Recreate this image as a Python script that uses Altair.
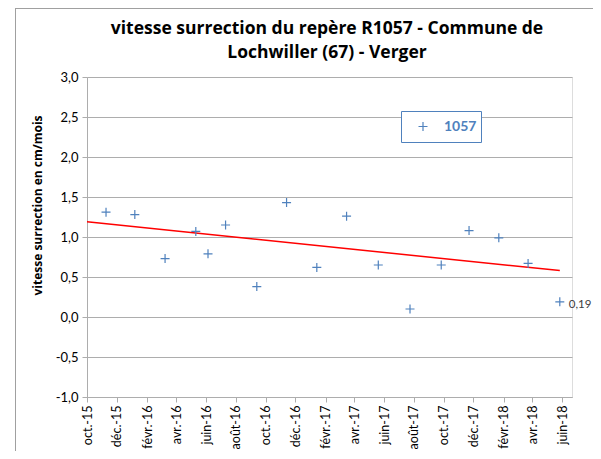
import altair as alt
import pandas as pd

# ---- data ----
dates = ["2015-11-09", "2016-01-07", "2016-03-09", "2016-05-11", "2016-06-05",
         "2016-07-11", "2016-09-13", "2016-11-13", "2017-01-14", "2017-03-16",
         "2017-05-20", "2017-07-24", "2017-09-26", "2017-11-22", "2018-01-22",
         "2018-03-23", "2018-05-27"]
values = [1.31, 1.28, 0.73, 1.07, 0.79, 1.15, 0.38, 1.43, 0.62, 1.26,
          0.65, 0.10, 0.65, 1.08, 0.99, 0.67, 0.19]
series_name = "1057"
trend_dates = ["2015-10-01", "2018-05-27"]
trend_values = [1.19, 0.58]
y_ticks = [-1.0, -0.5, 0.0, 0.5, 1.0, 1.5, 2.0, 2.5, 3.0]
x_tick_months = [(2015, 10), (2015, 12), (2016, 2), (2016, 4), (2016, 6), (2016, 8),
                 (2016, 10), (2016, 12), (2017, 2), (2017, 4), (2017, 6), (2017, 8),
                 (2017, 10), (2017, 12), (2018, 2), (2018, 4), (2018, 6)]
title_lines = ["vitesse surrection du repère R1057 - Commune de",
               "Lochwiller (67) - Verger"]
y_title = "vitesse surrection en cm/mois"

FONT = "Lato"
TFONT = "Open Sans"
BLUE = "#4F81BD"
GRID = "#ADADAD"
PLUS = "M-1,0L1,0M0,-1L0,1"

df = pd.DataFrame({
    "date": [d + "T00:00:00" for d in dates],
    "v": values,
    "serie": [series_name] * len(values),
    "idx": list(range(len(values))),
})
trend = pd.DataFrame({"date": [d + "T00:00:00" for d in trend_dates], "v": trend_values})

x_scale = alt.Scale(domain=[alt.DateTime(year=2015, month=10, date=1),
                            alt.DateTime(year=2018, month=6, date=21)])
y_scale = alt.Scale(domain=[-1, 3], nice=False, zero=False)

month_names = "['janv.','févr.','mars','avr.','mai','juin','juil.','août','sept.','oct.','nov.','déc.']"

x_axis = alt.Axis(
    values=[alt.DateTime(year=y, month=m, date=1) for y, m in x_tick_months],
    labelExpr=month_names + "[month(datum.value)] + '-' + timeFormat(datum.value, '%y')",
    labelAngle=270, labelAlign="right", labelBaseline="middle",
    labelFont=FONT, labelFontSize=12.5, labelColor="#000000", labelPadding=3,
    labelOverlap=False, labelFlush=False,
    grid=False, tickSize=5, tickColor=GRID, domainColor=GRID, title=None,
)
y_axis = alt.Axis(
    values=y_ticks,
    labelExpr="(datum.value < 0 ? '-' : '') + replace(format(abs(datum.value), '.1f'), '.', ',')",
    labelFont=FONT, labelFontSize=13, labelColor="#000000", labelPadding=4,
    grid=True, gridColor=GRID, gridWidth=1, tickSize=5, tickColor=GRID, domainColor=GRID,
    title=y_title, titleFont=TFONT, titleFontSize=12, titleFontWeight="bold", titleColor="#000000",
    titleAngle=270, titleAlign="center", titleBaseline="middle", titleX=-50, titleY=128,
)

one_row = pd.DataFrame({"a": [0]})
frame_left = alt.Chart(one_row).mark_rule(color="#A0A0A0", strokeWidth=1).encode(
    x=alt.value(-71.5), y=alt.value(-69), y2=alt.value(374))
frame_top = alt.Chart(one_row).mark_rule(color="#A0A0A0", strokeWidth=1).encode(
    x=alt.value(-72), x2=alt.value(510), y=alt.value(-68.5))

title_text = alt.Chart(one_row).mark_text(
    text=title_lines, font=TFONT, fontSize=17.5, fontWeight="bold", color="#000000",
    align="center", baseline="alphabetic", lineHeight=24,
).encode(x=alt.value(240), y=alt.value(-43))

trend_line = alt.Chart(trend).mark_line(color="#FF0000", strokeWidth=1.5).encode(
    x=alt.X("date:T", scale=x_scale, axis=x_axis),
    y=alt.Y("v:Q", scale=y_scale, axis=y_axis),
)

points = alt.Chart(df).mark_point(filled=False, size=81, strokeWidth=1.2, color=BLUE, opacity=1).encode(
    x=alt.X("date:T", scale=x_scale, axis=x_axis),
    y=alt.Y("v:Q", scale=y_scale, axis=y_axis),
    shape=alt.Shape("serie:N", scale=alt.Scale(domain=[series_name], range=[PLUS]),
                    legend=alt.Legend(title=None, orient="none", legendX=314, legendY=34,
                                      strokeColor=BLUE, fillColor="white", padding=4,
                                      clipHeight=23,
                                      symbolOffset=11, labelOffset=14, labelFont=FONT,
                                      labelFontSize=14, labelFontWeight="bold", labelColor=BLUE,
                                      symbolSize=81, symbolStrokeWidth=1.2,
                                      symbolStrokeColor=BLUE, cornerRadius=0)),
)

label = alt.Chart(df).transform_filter(alt.datum.idx == len(values) - 1).transform_calculate(
    lab="replace(format(datum.v, '.2f'), '.', ',')"
).mark_text(align="left", baseline="middle", dx=9, dy=3, font=FONT, fontSize=11.5, color="#404040").encode(
    x=alt.X("date:T", scale=x_scale, axis=x_axis),
    y=alt.Y("v:Q", scale=y_scale, axis=y_axis),
    text="lab:N",
)

chart = alt.layer(frame_left, frame_top, title_text, trend_line, points, label).properties(
    width=485, height=320,
    padding={"left": 79, "top": 69, "right": 21, "bottom": 54},
    autosize="none",
).configure_view(stroke=None).configure(background="white")

chart.save("out.html", embed_options={"renderer": "svg", "actions": False})
